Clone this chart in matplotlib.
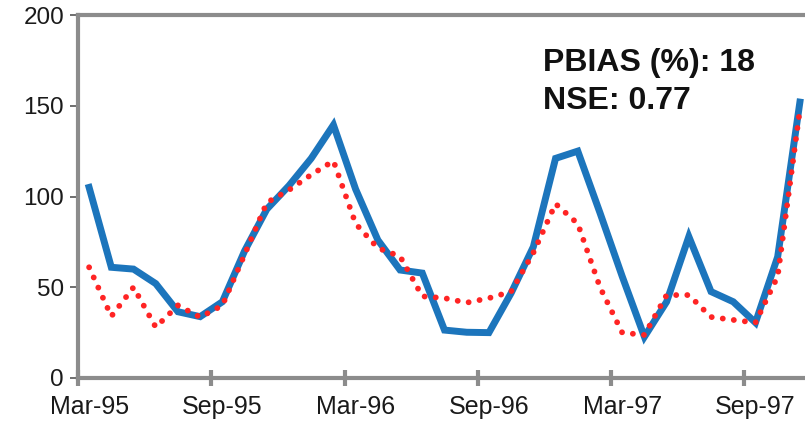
import numpy as np
import pandas as pd
import matplotlib
matplotlib.use("Agg")
import matplotlib.pyplot as plt

# monthly series, Mar-95 .. Nov-97
months = pd.date_range("1995-03-01", periods=33, freq="MS")
month_labels = [m.strftime("%b-%y") for m in months]

observed = [105, 61, 60, 52, 36.5, 33.8, 42, 70, 93, 106, 121, 139.4,
            104, 76, 59.5, 57.8, 26.4, 25.2, 25, 46.8, 72.3, 121, 125,
            91, 56, 22.7, 42, 77.9, 47.6, 42, 30.5, 66.8, 152]
simulated = [61, 34, 50, 28, 40, 33.5, 40, 68, 96.6, 103.6, 112, 119.6,
             85, 71.6, 67, 45, 44, 41.5, 44, 47.6, 69, 96, 85,
             50, 25, 23.7, 45.7, 45.7, 33.6, 32, 30.5, 56, 148]

stats_text = "PBIAS (%): 18\nNSE: 0.77"

plt.rcParams['font.family'] = ['Liberation Sans', 'DejaVu Sans']

fig = plt.figure(figsize=(8.05, 4.25), dpi=100)
W, H = 805, 425
ax = fig.add_axes([78 / W, 47 / H, (811 - 78) / W, 363 / H])

x = np.arange(len(observed))
ax.plot(x, observed, color='#1c75bc', lw=5, solid_joinstyle='miter', zorder=3)
ax.plot(x, simulated, color='#ff2424', lw=4.2, linestyle=(0, (0.01, 1.9)),
        dash_capstyle='round', zorder=4)

ax.set_xlim(-0.5, len(observed) - 0.5)
ax.set_ylim(0, 200)

grey = '#8c8c8c'
for side in ['left', 'bottom', 'top']:
    ax.spines[side].set_color(grey)
    ax.spines[side].set_linewidth(3)
ax.spines['right'].set_visible(False)

ax.set_yticks([0, 50, 100, 150, 200])
ax.tick_params(axis='y', direction='out', length=6, width=1.2, color='#555555',
               labelsize=17.5, labelcolor='#1a1a1a', pad=4)

# tick marks between categories, labels on every 6th month
ax.set_xticks(np.arange(-0.5, len(observed), 6))
ax.set_xticklabels([])
ax.set_xticks(np.arange(0, len(observed), 6), minor=True)
ax.set_xticklabels(month_labels[::6], minor=True)
ax.tick_params(axis='x', which='major', direction='inout', length=12, width=3, color=grey)
ax.tick_params(axis='x', which='minor', length=0, labelsize=18, labelcolor='#1a1a1a', pad=12)

ax.text(20.45, 163, stats_text, fontsize=23, fontweight='bold', color='#111111',
        ha='left', va='center', linespacing=1.32)

fig.savefig("out.png", dpi=100)
